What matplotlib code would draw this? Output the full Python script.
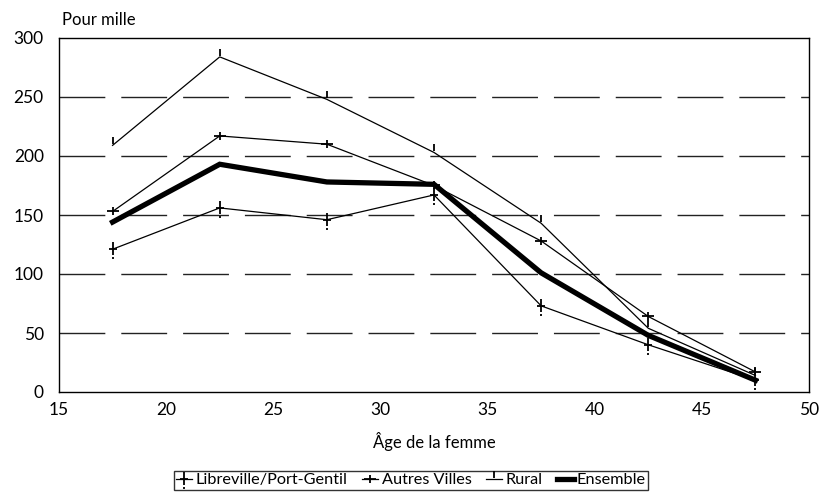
import matplotlib
matplotlib.use("Agg")
import matplotlib.pyplot as plt
from matplotlib.path import Path

ages = [17.5, 22.5, 27.5, 32.5, 37.5, 42.5, 47.5]
libreville = [121, 156, 146, 167, 73, 40, 10]
autres = [153, 217, 210, 175, 128, 64, 17]
rural = [209, 284, 248, 203, 143, 54, 14]
ensemble = [144, 193, 178, 176, 101, 48, 10]
xticks = [15, 20, 25, 30, 35, 40, 45, 50]
yticks = [0, 50, 100, 150, 200, 250, 300]

plt.rcParams['font.family'] = ['Lato', 'DejaVu Sans']

M = Path.MOVETO
L = Path.LINETO
# Libreville: horizontal bar, vertical bar with a dot at the bottom
m_lib = Path([(-4, 0), (4, 0), (0, 7), (0, -6), (0, -8), (0, -10)],
             [M, L, M, L, M, L])
# Autres villes: plus
m_aut = Path([(-6, 0), (6, 0), (0, 4), (0, -4)], [M, L, M, L])
# Rural: small tick above
m_rur = Path([(0, 1), (0, 8)], [M, L])

fig = plt.figure(figsize=(8.22, 4.95), dpi=100)
ax = fig.add_axes([59/822, 1-392/495, 750/822, 354/495])

ax.plot(ages, libreville, color='black', lw=0.9, marker=m_lib, markersize=14.4,
        markeredgewidth=1.3, label='Libreville/Port-Gentil', zorder=3)
ax.plot(ages, autres, color='black', lw=0.9, marker=m_aut, markersize=8.6,
        markeredgewidth=1.3, label='Autres Villes', zorder=3)
ax.plot(ages, rural, color='black', lw=0.9, marker=m_rur, markersize=11.5,
        markeredgewidth=1.3, label='Rural', zorder=3)
ax.plot(ages, ensemble, color='black', lw=3.8, label='Ensemble', zorder=4,
        solid_joinstyle='miter')

ax.set_xlim(15, 50)
ax.set_ylim(0, 300)
ax.set_xticks(xticks)
ax.set_yticks(yticks)
ax.tick_params(axis='x', length=0, labelsize=12.5, pad=7)
ax.tick_params(axis='y', length=0, labelsize=12.5, pad=11)
for y in yticks[1:-1]:
    ax.axhline(y, color='#222222', lw=1.0, dashes=(33, 11.5), zorder=1)
for s in ax.spines.values():
    s.set_color('black')
    s.set_linewidth(1.0)

ax.set_xlabel('Âge de la femme', fontsize=12, labelpad=10)
fig.text(62/822, 1-20/495, 'Pour mille', fontsize=12, ha='left', va='center')

leg = ax.legend(loc='lower center', ncol=4, frameon=True, fontsize=11.7,
                handlelength=1.0, handletextpad=0.2, columnspacing=0.9,
                borderpad=0.15, fancybox=False)
leg.set_bbox_to_anchor((0.5, -0.006), transform=fig.transFigure)
leg.get_frame().set_edgecolor('black')
leg.get_frame().set_linewidth(1.0)

fig.savefig('out.png', dpi=100)
